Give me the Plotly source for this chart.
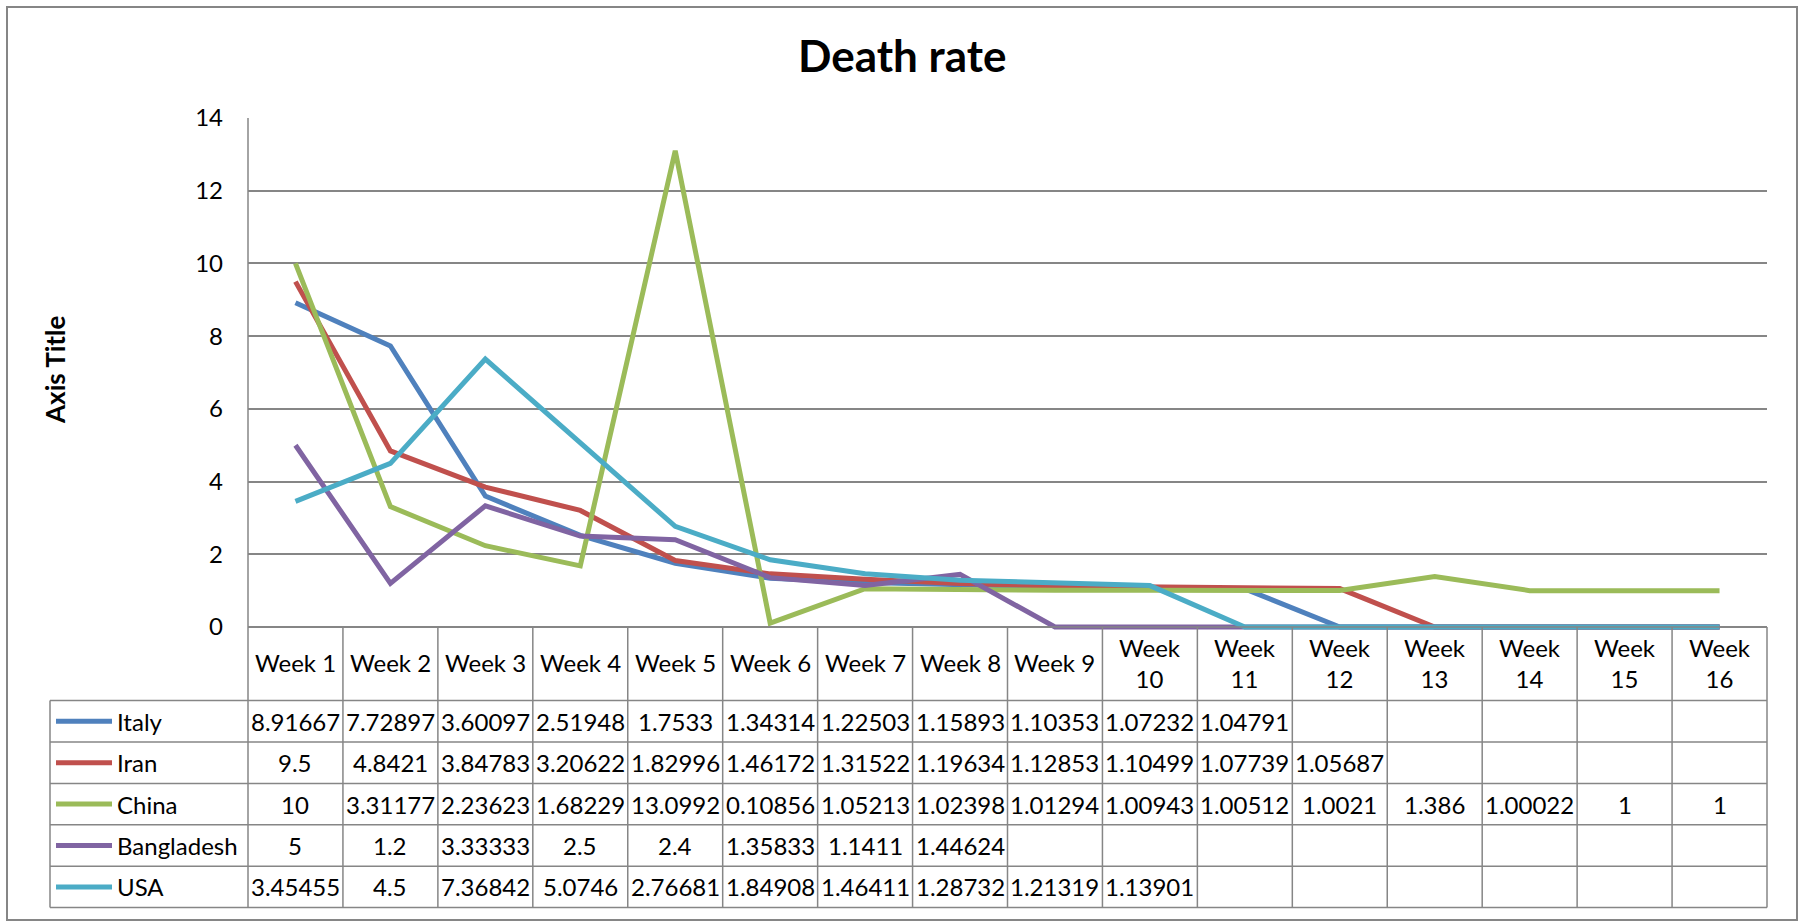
import plotly.graph_objects as go

# ---------------- data ----------------
weeks = ["Week 1", "Week 2", "Week 3", "Week 4", "Week 5", "Week 6", "Week 7", "Week 8",
         "Week 9", "Week 10", "Week 11", "Week 12", "Week 13", "Week 14", "Week 15", "Week 16"]
countries = ["Italy", "Iran", "China", "Bangladesh", "USA"]
italy = [8.91667, 7.72897, 3.60097, 2.51948, 1.7533, 1.34314, 1.22503, 1.15893, 1.10353, 1.07232,
         1.04791, None, None, None, None, None]
iran = [9.5, 4.8421, 3.84783, 3.20622, 1.82996, 1.46172, 1.31522, 1.19634, 1.12853, 1.10499,
        1.07739, 1.05687, None, None, None, None]
china = [10, 3.31177, 2.23623, 1.68229, 13.0992, 0.10856, 1.05213, 1.02398, 1.01294, 1.00943,
         1.00512, 1.0021, 1.386, 1.00022, 1, 1]
bangladesh = [5, 1.2, 3.33333, 2.5, 2.4, 1.35833, 1.1411, 1.44624, None, None,
              None, None, None, None, None, None]
usa = [3.45455, 4.5, 7.36842, 5.0746, 2.76681, 1.84908, 1.46411, 1.28732, 1.21319, 1.13901,
       None, None, None, None, None, None]
series = [italy, iran, china, bangladesh, usa]
colors = ["#4F81BD", "#C0504D", "#9BBB59", "#8064A2", "#4BACC6"]
yticks = [0, 2, 4, 6, 8, 10, 12, 14]

# ---------------- layout geometry (pixels) ----------------
W, H = 1806, 921
L, R, T = 248, 1767, 118
ZERO = 627                # pixel of y=0
YMAX = 14
unit = (ZERO - T) / YMAX
B = 631                   # plot bottom (a little below zero so zero lines are not clipped)
YMIN = -(B - ZERO) / unit

HEAD_BOT = 700.6
ROW_H = 41.4
TAB_L = 50
ncol = len(weeks)
colw = (R - L) / ncol
GRID = "#868686"
FONT = "Lato"
FS = 24

def xp(px):
    return (px - L) / (R - L)

def yp(py):
    return (B - py) / (B - T)

fig = go.Figure()
xs = list(range(ncol))
for name, vals, c in zip(countries, series, colors):
    yv = [v if v is not None else 0 for v in vals]
    fig.add_trace(go.Scatter(x=xs, y=yv, mode="lines", name=name,
                             line=dict(color=c, width=5), showlegend=False,
                             hoverinfo="skip"))

shapes = []
annos = []

def hline(x0, x1, y, w=1.5):
    shapes.append(dict(type="line", xref="paper", yref="paper", x0=xp(x0), x1=xp(x1),
                       y0=yp(y), y1=yp(y), line=dict(color=GRID, width=w)))

def vline(x, y0, y1, w=1.5):
    shapes.append(dict(type="line", xref="paper", yref="paper", x0=xp(x), x1=xp(x),
                       y0=yp(y0), y1=yp(y1), line=dict(color=GRID, width=w)))

nrows = len(countries)
TAB_B = HEAD_BOT + nrows * ROW_H

# chart outer border
shapes.append(dict(type="rect", xref="paper", yref="paper", x0=xp(7), x1=xp(1797),
                   y0=yp(920), y1=yp(7), line=dict(color=GRID, width=2), layer="below"))

# table grid
hline(L, R, ZERO)
for r in range(nrows + 1):
    hline(TAB_L, R, HEAD_BOT + r * ROW_H)
vline(L, T, TAB_B)
for i in range(1, ncol + 1):
    vline(L + i * colw, ZERO, TAB_B)
vline(TAB_L, HEAD_BOT, TAB_B)

# header labels
for i, wk in enumerate(weeks):
    cx = L + (i + 0.5) * colw
    txt = wk if len(wk) <= 6 else wk.replace(" ", "<br>")
    annos.append(dict(text=txt, xref="paper", yref="paper", x=xp(cx), y=yp((ZERO + HEAD_BOT) / 2 - 1),
                      xanchor="center", yanchor="middle", showarrow=False,
                      font=dict(family=FONT, size=FS, color="black")))

# rows
for r, (name, vals, c) in enumerate(zip(countries, series, colors)):
    cy = HEAD_BOT + (r + 0.5) * ROW_H
    shapes.append(dict(type="line", xref="paper", yref="paper", x0=xp(56), x1=xp(112),
                       y0=yp(cy), y1=yp(cy), line=dict(color=c, width=5)))
    annos.append(dict(text=name, xref="paper", yref="paper", x=xp(115), y=yp(cy),
                      xanchor="left", yanchor="middle", showarrow=False,
                      font=dict(family=FONT, size=FS, color="black")))
    for i, v in enumerate(vals):
        if v is None:
            continue
        cx = L + (i + 0.5) * colw
        annos.append(dict(text="{:g}".format(v), xref="paper", yref="paper", x=xp(cx), y=yp(cy),
                          xanchor="center", yanchor="middle", showarrow=False,
                          font=dict(family=FONT, size=FS, color="black")))

# title and axis title
annos.append(dict(text="<b>Death rate</b>", xref="paper", yref="paper", x=xp(902), y=yp(55),
                  xanchor="center", yanchor="middle", showarrow=False,
                  font=dict(family=FONT, size=44, color="black")))
annos.append(dict(text="<b>Axis Title</b>", xref="paper", yref="paper", x=xp(55), y=yp(370),
                  xanchor="center", yanchor="middle", showarrow=False, textangle=-90,
                  font=dict(family=FONT, size=26, color="black")))

fig.update_layout(
    width=W, height=H,
    margin=dict(l=L, r=W - R, t=T, b=H - B, pad=0),
    paper_bgcolor="white", plot_bgcolor="white",
    shapes=shapes, annotations=annos,
    xaxis=dict(range=[-0.5, ncol - 0.5], showticklabels=False, showgrid=False,
               zeroline=False, showline=False, ticks=""),
    yaxis=dict(range=[YMIN, YMAX], tickvals=yticks, showgrid=True, gridcolor=GRID,
               gridwidth=1.5, zeroline=False, showline=False, ticks="",
               ticklabelstandoff=24,
               tickfont=dict(family=FONT, size=FS, color="black")),
)

fig.write_html("out.html", config={"displayModeBar": False},
               post_script="document.body.style.margin='0px';document.body.style.overflow='hidden';")
